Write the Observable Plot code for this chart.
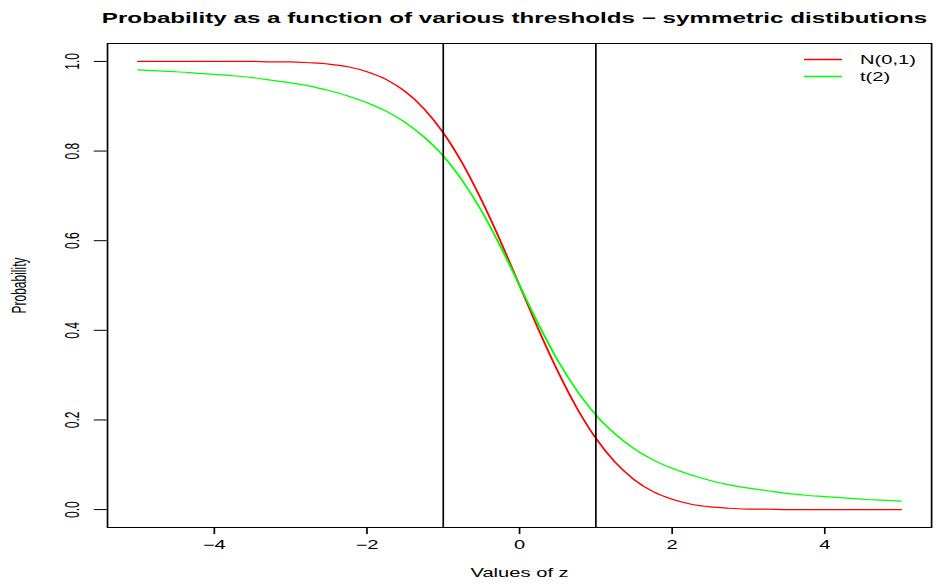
<!DOCTYPE html>
<html>
<head>
<meta charset="utf-8">
<script src="https://cdn.jsdelivr.net/npm/d3@7"></script>
<script src="https://cdn.jsdelivr.net/npm/@observablehq/plot@0.6"></script>
<style>
  body { margin: 0; background: #fff; }
  #wrap { position: relative; width: 940px; height: 584px; overflow: hidden; }
  #legend { position: absolute; left: 800px; top: 48px; }
</style>
</head>
<body>
<div id="wrap"></div>
<script>
const titleText = "Probability as a function of various thresholds \u2212 symmetric distibutions";
const xLabel = "Values of z";
const yLabel = "Probability";
const seriesNames = ["N(0,1)", "t(2)"];
const seriesColors = ["#ff0000", "#00ff00"];
const thresholds = [-1, 1];
const xTicks = [-4, -2, 0, 2, 4];
const yTicks = [0, 0.2, 0.4, 0.6, 0.8, 1.0];

const z = [-5, -4.75, -4.5, -4.25, -4, -3.75, -3.5, -3.25, -3, -2.75, -2.5, -2.25, -2, -1.75, -1.5, -1.25, -1, -0.75, -0.5, -0.25,
  0, 0.25, 0.5, 0.75, 1, 1.25, 1.5, 1.75, 2, 2.25, 2.5, 2.75, 3, 3.25, 3.5, 3.75, 4, 4.25, 4.5, 4.75, 5];
const pNormal = [1.000, 1.000, 1.000, 1.000, 1.000, 1.000, 1.000, 0.999, 0.999, 0.997, 0.994, 0.988, 0.977, 0.960, 0.933, 0.894, 0.841, 0.773, 0.691, 0.599,
  0.500, 0.401, 0.309, 0.227, 0.159, 0.106, 0.067, 0.040, 0.023, 0.012, 0.006, 0.003, 0.001, 0.001, 0.000, 0.000, 0.000, 0.000, 0.000, 0.000, 0.000];
const pT2 = [0.981, 0.979, 0.977, 0.974, 0.971, 0.968, 0.964, 0.958, 0.952, 0.945, 0.935, 0.923, 0.908, 0.889, 0.864, 0.831, 0.789, 0.734, 0.667, 0.587,
  0.500, 0.413, 0.333, 0.266, 0.211, 0.169, 0.136, 0.111, 0.092, 0.077, 0.065, 0.055, 0.048, 0.042, 0.036, 0.032, 0.029, 0.026, 0.023, 0.021, 0.019];

const rows = [];
z.forEach((v, i) => {
  rows.push({z: v, p: pNormal[i], s: seriesNames[0]});
  rows.push({z: v, p: pT2[i], s: seriesNames[1]});
});

// The reference is drawn in a narrower frame and stretched horizontally.
const stretch = 1.68;
const W = 940 / stretch;
const H = 584;
const font = "Liberation Sans, Arial, sans-serif";
const chart = Plot.plot({
  width: W,
  height: H,
  marginLeft: 63.5,
  marginRight: 5.5,
  marginTop: 43,
  marginBottom: 57,
  style: {fontFamily: font, fontSize: "12px", background: "white", color: "black", overflow: "visible"},
  x: {domain: [-5.4, 5.4]},
  y: {domain: [-0.04, 1.04]},
  color: {domain: seriesNames, range: seriesColors},
  marks: [
    Plot.line(rows, {x: "z", y: "p", stroke: "s", strokeWidth: 1.2, curve: "monotone-x"}),
    Plot.ruleX(thresholds, {stroke: "black", strokeWidth: 1}),
    Plot.frame({stroke: "black", strokeWidth: 1}),
    Plot.axisX({ticks: xTicks, tickSize: 7, tickPadding: 6, tickFormat: d3.format("d"), fontSize: 12,
      label: xLabel, labelAnchor: "center", labelArrow: "none", labelOffset: 49}),
    Plot.axisY({ticks: yTicks, tickSize: 7.7, tickPadding: 9, tickFormat: d3.format(".1f"), tickRotate: -90,
      fontSize: 12, label: yLabel, labelAnchor: "center", labelArrow: "none", labelOffset: 57}),
    Plot.text([titleText], {frameAnchor: "top", dy: -31, dx: -3, fontWeight: "bold", fontSize: 14.4, fill: "black"})
  ]
});
chart.setAttribute("viewBox", `0 0 ${W} ${H}`);
chart.setAttribute("width", 940);
chart.setAttribute("height", H);
chart.setAttribute("preserveAspectRatio", "none");
chart.style.width = "940px";
chart.style.height = H + "px";
chart.style.maxWidth = "none";
document.getElementById("wrap").appendChild(chart);

// Legend overlay (top right, inside the plot box)
const rowGap = 17;
const leg = d3.select("#wrap").append("svg")
  .attr("id", "legend")
  .attr("width", 130)
  .attr("height", 40);
seriesNames.forEach((n, i) => {
  const yy = 11.5 + i * rowGap;
  leg.append("line")
    .attr("x1", 4).attr("x2", 42)
    .attr("y1", yy).attr("y2", yy)
    .attr("stroke", seriesColors[i]).attr("stroke-width", 1.4);
  leg.append("text")
    .attr("transform", `translate(60,${yy}) scale(1.68,1)`)
    .attr("dy", "0.35em")
    .attr("font-family", font)
    .attr("font-size", 12)
    .attr("fill", "black")
    .text(n);
});
</script>
</body>
</html>
